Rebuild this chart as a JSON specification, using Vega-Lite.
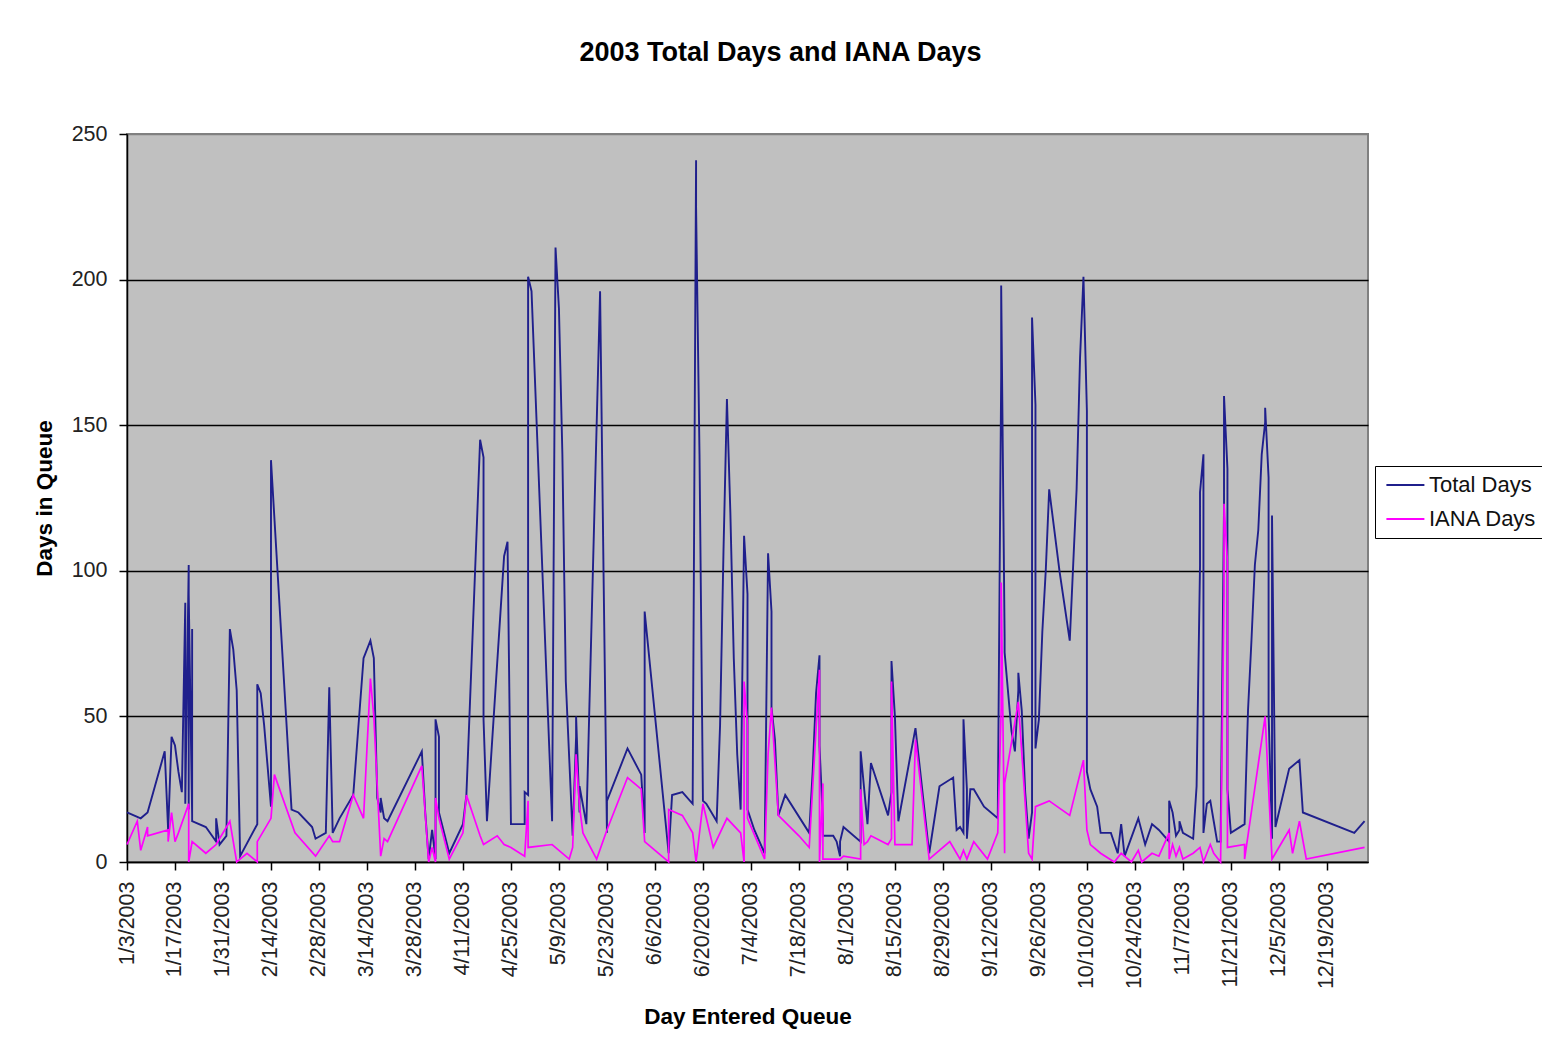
{
"$schema": "https://vega.github.io/schema/vega-lite/v6.json",
"width": 1241, "height": 728,
"autosize": {"type": "none"},
"padding": {"left": 127, "top": 134, "right": 174, "bottom": 185},
"background": "#ffffff",
"title": {"text": "2003 Total Days and IANA Days", "font": "Liberation Sans", "fontSize": 27, "fontWeight": "bold", "color": "#000000", "anchor": "middle", "offset": 56, "dx": 33},
"config": {"view": {"fill": "#c0c0c0", "stroke": "#808080", "strokeWidth": 2}},
"data": {"values": [
{"date":"2003-01-03","series":"Total Days","days":17},
{"date":"2003-01-07","series":"Total Days","days":15},
{"date":"2003-01-09","series":"Total Days","days":17},
{"date":"2003-01-14","series":"Total Days","days":38},
{"date":"2003-01-15","series":"Total Days","days":11},
{"date":"2003-01-16","series":"Total Days","days":43},
{"date":"2003-01-17","series":"Total Days","days":40},
{"date":"2003-01-18","series":"Total Days","days":31},
{"date":"2003-01-19","series":"Total Days","days":24},
{"date":"2003-01-20","series":"Total Days","days":89},
{"date":"2003-01-20","series":"Total Days","days":20},
{"date":"2003-01-21","series":"Total Days","days":102},
{"date":"2003-01-21","series":"Total Days","days":18},
{"date":"2003-01-21","series":"Total Days","days":92},
{"date":"2003-01-22","series":"Total Days","days":16},
{"date":"2003-01-22","series":"Total Days","days":80},
{"date":"2003-01-22","series":"Total Days","days":14},
{"date":"2003-01-26","series":"Total Days","days":12},
{"date":"2003-01-29","series":"Total Days","days":7},
{"date":"2003-01-29","series":"Total Days","days":15},
{"date":"2003-01-30","series":"Total Days","days":6},
{"date":"2003-02-01","series":"Total Days","days":9},
{"date":"2003-02-02","series":"Total Days","days":80},
{"date":"2003-02-03","series":"Total Days","days":73},
{"date":"2003-02-04","series":"Total Days","days":59},
{"date":"2003-02-05","series":"Total Days","days":2},
{"date":"2003-02-10","series":"Total Days","days":13},
{"date":"2003-02-10","series":"Total Days","days":61},
{"date":"2003-02-11","series":"Total Days","days":58},
{"date":"2003-02-12","series":"Total Days","days":47},
{"date":"2003-02-14","series":"Total Days","days":19},
{"date":"2003-02-14","series":"Total Days","days":138},
{"date":"2003-02-20","series":"Total Days","days":18},
{"date":"2003-02-22","series":"Total Days","days":17},
{"date":"2003-02-26","series":"Total Days","days":12},
{"date":"2003-02-27","series":"Total Days","days":8},
{"date":"2003-03-02","series":"Total Days","days":10},
{"date":"2003-03-03","series":"Total Days","days":60},
{"date":"2003-03-04","series":"Total Days","days":10},
{"date":"2003-03-06","series":"Total Days","days":15},
{"date":"2003-03-10","series":"Total Days","days":23},
{"date":"2003-03-13","series":"Total Days","days":70},
{"date":"2003-03-15","series":"Total Days","days":76},
{"date":"2003-03-16","series":"Total Days","days":70},
{"date":"2003-03-17","series":"Total Days","days":22},
{"date":"2003-03-18","series":"Total Days","days":17},
{"date":"2003-03-18","series":"Total Days","days":22},
{"date":"2003-03-19","series":"Total Days","days":15},
{"date":"2003-03-20","series":"Total Days","days":14},
{"date":"2003-03-30","series":"Total Days","days":38},
{"date":"2003-03-31","series":"Total Days","days":17},
{"date":"2003-04-01","series":"Total Days","days":1},
{"date":"2003-04-02","series":"Total Days","days":11},
{"date":"2003-04-03","series":"Total Days","days":1},
{"date":"2003-04-03","series":"Total Days","days":49},
{"date":"2003-04-04","series":"Total Days","days":43},
{"date":"2003-04-04","series":"Total Days","days":17},
{"date":"2003-04-07","series":"Total Days","days":3},
{"date":"2003-04-11","series":"Total Days","days":13},
{"date":"2003-04-12","series":"Total Days","days":23},
{"date":"2003-04-15","series":"Total Days","days":114},
{"date":"2003-04-16","series":"Total Days","days":145},
{"date":"2003-04-17","series":"Total Days","days":139},
{"date":"2003-04-17","series":"Total Days","days":49},
{"date":"2003-04-18","series":"Total Days","days":14},
{"date":"2003-04-23","series":"Total Days","days":105},
{"date":"2003-04-24","series":"Total Days","days":110},
{"date":"2003-04-25","series":"Total Days","days":13},
{"date":"2003-04-29","series":"Total Days","days":13},
{"date":"2003-04-29","series":"Total Days","days":24},
{"date":"2003-04-30","series":"Total Days","days":23},
{"date":"2003-04-30","series":"Total Days","days":201},
{"date":"2003-05-01","series":"Total Days","days":196},
{"date":"2003-05-07","series":"Total Days","days":14},
{"date":"2003-05-08","series":"Total Days","days":211},
{"date":"2003-05-09","series":"Total Days","days":190},
{"date":"2003-05-10","series":"Total Days","days":140},
{"date":"2003-05-11","series":"Total Days","days":62},
{"date":"2003-05-13","series":"Total Days","days":9},
{"date":"2003-05-14","series":"Total Days","days":43},
{"date":"2003-05-14","series":"Total Days","days":50},
{"date":"2003-05-15","series":"Total Days","days":17},
{"date":"2003-05-15","series":"Total Days","days":26},
{"date":"2003-05-17","series":"Total Days","days":13},
{"date":"2003-05-21","series":"Total Days","days":196},
{"date":"2003-05-22","series":"Total Days","days":100},
{"date":"2003-05-23","series":"Total Days","days":10},
{"date":"2003-05-23","series":"Total Days","days":21},
{"date":"2003-05-29","series":"Total Days","days":39},
{"date":"2003-06-02","series":"Total Days","days":30},
{"date":"2003-06-03","series":"Total Days","days":10},
{"date":"2003-06-03","series":"Total Days","days":86},
{"date":"2003-06-10","series":"Total Days","days":3},
{"date":"2003-06-11","series":"Total Days","days":23},
{"date":"2003-06-14","series":"Total Days","days":24},
{"date":"2003-06-17","series":"Total Days","days":20},
{"date":"2003-06-18","series":"Total Days","days":241},
{"date":"2003-06-18","series":"Total Days","days":225},
{"date":"2003-06-19","series":"Total Days","days":140},
{"date":"2003-06-20","series":"Total Days","days":21},
{"date":"2003-06-21","series":"Total Days","days":20},
{"date":"2003-06-24","series":"Total Days","days":14},
{"date":"2003-06-25","series":"Total Days","days":47},
{"date":"2003-06-26","series":"Total Days","days":107},
{"date":"2003-06-27","series":"Total Days","days":159},
{"date":"2003-06-28","series":"Total Days","days":120},
{"date":"2003-06-29","series":"Total Days","days":70},
{"date":"2003-06-30","series":"Total Days","days":37},
{"date":"2003-07-01","series":"Total Days","days":18},
{"date":"2003-07-02","series":"Total Days","days":112},
{"date":"2003-07-03","series":"Total Days","days":92},
{"date":"2003-07-03","series":"Total Days","days":18},
{"date":"2003-07-05","series":"Total Days","days":11},
{"date":"2003-07-08","series":"Total Days","days":3},
{"date":"2003-07-09","series":"Total Days","days":106},
{"date":"2003-07-10","series":"Total Days","days":86},
{"date":"2003-07-10","series":"Total Days","days":53},
{"date":"2003-07-11","series":"Total Days","days":42},
{"date":"2003-07-12","series":"Total Days","days":16},
{"date":"2003-07-14","series":"Total Days","days":23},
{"date":"2003-07-21","series":"Total Days","days":10},
{"date":"2003-07-22","series":"Total Days","days":31},
{"date":"2003-07-23","series":"Total Days","days":58},
{"date":"2003-07-24","series":"Total Days","days":71},
{"date":"2003-07-24","series":"Total Days","days":40},
{"date":"2003-07-25","series":"Total Days","days":14},
{"date":"2003-07-25","series":"Total Days","days":9},
{"date":"2003-07-28","series":"Total Days","days":9},
{"date":"2003-07-29","series":"Total Days","days":7},
{"date":"2003-07-30","series":"Total Days","days":2},
{"date":"2003-07-30","series":"Total Days","days":7},
{"date":"2003-07-31","series":"Total Days","days":12},
{"date":"2003-08-05","series":"Total Days","days":7},
{"date":"2003-08-05","series":"Total Days","days":38},
{"date":"2003-08-07","series":"Total Days","days":13},
{"date":"2003-08-08","series":"Total Days","days":34},
{"date":"2003-08-13","series":"Total Days","days":16},
{"date":"2003-08-14","series":"Total Days","days":24},
{"date":"2003-08-14","series":"Total Days","days":69},
{"date":"2003-08-15","series":"Total Days","days":50},
{"date":"2003-08-16","series":"Total Days","days":14},
{"date":"2003-08-21","series":"Total Days","days":46},
{"date":"2003-08-25","series":"Total Days","days":3},
{"date":"2003-08-28","series":"Total Days","days":26},
{"date":"2003-09-01","series":"Total Days","days":29},
{"date":"2003-09-02","series":"Total Days","days":11},
{"date":"2003-09-03","series":"Total Days","days":12},
{"date":"2003-09-04","series":"Total Days","days":10},
{"date":"2003-09-04","series":"Total Days","days":49},
{"date":"2003-09-05","series":"Total Days","days":25},
{"date":"2003-09-05","series":"Total Days","days":8},
{"date":"2003-09-06","series":"Total Days","days":25},
{"date":"2003-09-07","series":"Total Days","days":25},
{"date":"2003-09-10","series":"Total Days","days":19},
{"date":"2003-09-14","series":"Total Days","days":15},
{"date":"2003-09-15","series":"Total Days","days":167},
{"date":"2003-09-15","series":"Total Days","days":198},
{"date":"2003-09-16","series":"Total Days","days":77},
{"date":"2003-09-16","series":"Total Days","days":72},
{"date":"2003-09-18","series":"Total Days","days":45},
{"date":"2003-09-19","series":"Total Days","days":38},
{"date":"2003-09-20","series":"Total Days","days":59},
{"date":"2003-09-20","series":"Total Days","days":65},
{"date":"2003-09-21","series":"Total Days","days":52},
{"date":"2003-09-22","series":"Total Days","days":24},
{"date":"2003-09-23","series":"Total Days","days":8},
{"date":"2003-09-24","series":"Total Days","days":17},
{"date":"2003-09-24","series":"Total Days","days":187},
{"date":"2003-09-25","series":"Total Days","days":157},
{"date":"2003-09-25","series":"Total Days","days":97},
{"date":"2003-09-25","series":"Total Days","days":39},
{"date":"2003-09-26","series":"Total Days","days":49},
{"date":"2003-09-27","series":"Total Days","days":79},
{"date":"2003-09-28","series":"Total Days","days":100},
{"date":"2003-09-29","series":"Total Days","days":128},
{"date":"2003-10-02","series":"Total Days","days":100},
{"date":"2003-10-05","series":"Total Days","days":76},
{"date":"2003-10-07","series":"Total Days","days":128},
{"date":"2003-10-08","series":"Total Days","days":173},
{"date":"2003-10-09","series":"Total Days","days":201},
{"date":"2003-10-10","series":"Total Days","days":155},
{"date":"2003-10-10","series":"Total Days","days":31},
{"date":"2003-10-11","series":"Total Days","days":25},
{"date":"2003-10-13","series":"Total Days","days":19},
{"date":"2003-10-14","series":"Total Days","days":10},
{"date":"2003-10-17","series":"Total Days","days":10},
{"date":"2003-10-19","series":"Total Days","days":3},
{"date":"2003-10-20","series":"Total Days","days":13},
{"date":"2003-10-21","series":"Total Days","days":2},
{"date":"2003-10-25","series":"Total Days","days":15},
{"date":"2003-10-27","series":"Total Days","days":6},
{"date":"2003-10-29","series":"Total Days","days":13},
{"date":"2003-10-31","series":"Total Days","days":11},
{"date":"2003-11-03","series":"Total Days","days":7},
{"date":"2003-11-03","series":"Total Days","days":21},
{"date":"2003-11-04","series":"Total Days","days":17},
{"date":"2003-11-05","series":"Total Days","days":9},
{"date":"2003-11-06","series":"Total Days","days":11},
{"date":"2003-11-06","series":"Total Days","days":14},
{"date":"2003-11-07","series":"Total Days","days":10},
{"date":"2003-11-10","series":"Total Days","days":8},
{"date":"2003-11-11","series":"Total Days","days":26},
{"date":"2003-11-12","series":"Total Days","days":102},
{"date":"2003-11-12","series":"Total Days","days":127},
{"date":"2003-11-13","series":"Total Days","days":140},
{"date":"2003-11-13","series":"Total Days","days":78},
{"date":"2003-11-13","series":"Total Days","days":10},
{"date":"2003-11-14","series":"Total Days","days":20},
{"date":"2003-11-15","series":"Total Days","days":21},
{"date":"2003-11-16","series":"Total Days","days":14},
{"date":"2003-11-17","series":"Total Days","days":7},
{"date":"2003-11-18","series":"Total Days","days":7},
{"date":"2003-11-19","series":"Total Days","days":122},
{"date":"2003-11-19","series":"Total Days","days":160},
{"date":"2003-11-20","series":"Total Days","days":135},
{"date":"2003-11-20","series":"Total Days","days":86},
{"date":"2003-11-20","series":"Total Days","days":25},
{"date":"2003-11-21","series":"Total Days","days":10},
{"date":"2003-11-25","series":"Total Days","days":13},
{"date":"2003-11-26","series":"Total Days","days":52},
{"date":"2003-11-27","series":"Total Days","days":76},
{"date":"2003-11-28","series":"Total Days","days":102},
{"date":"2003-11-29","series":"Total Days","days":114},
{"date":"2003-11-30","series":"Total Days","days":140},
{"date":"2003-12-01","series":"Total Days","days":151},
{"date":"2003-12-01","series":"Total Days","days":156},
{"date":"2003-12-02","series":"Total Days","days":132},
{"date":"2003-12-02","series":"Total Days","days":51},
{"date":"2003-12-03","series":"Total Days","days":8},
{"date":"2003-12-03","series":"Total Days","days":119},
{"date":"2003-12-04","series":"Total Days","days":12},
{"date":"2003-12-08","series":"Total Days","days":32},
{"date":"2003-12-11","series":"Total Days","days":35},
{"date":"2003-12-12","series":"Total Days","days":17},
{"date":"2003-12-27","series":"Total Days","days":10},
{"date":"2003-12-30","series":"Total Days","days":14},
{"date":"2003-01-03","series":"IANA Days","days":6},
{"date":"2003-01-06","series":"IANA Days","days":14},
{"date":"2003-01-07","series":"IANA Days","days":4},
{"date":"2003-01-09","series":"IANA Days","days":12},
{"date":"2003-01-09","series":"IANA Days","days":9},
{"date":"2003-01-15","series":"IANA Days","days":11},
{"date":"2003-01-15","series":"IANA Days","days":7},
{"date":"2003-01-16","series":"IANA Days","days":17},
{"date":"2003-01-17","series":"IANA Days","days":7},
{"date":"2003-01-18","series":"IANA Days","days":10},
{"date":"2003-01-21","series":"IANA Days","days":20},
{"date":"2003-01-21","series":"IANA Days","days":0},
{"date":"2003-01-22","series":"IANA Days","days":7},
{"date":"2003-01-26","series":"IANA Days","days":3},
{"date":"2003-01-29","series":"IANA Days","days":6},
{"date":"2003-02-02","series":"IANA Days","days":14},
{"date":"2003-02-04","series":"IANA Days","days":0},
{"date":"2003-02-07","series":"IANA Days","days":3},
{"date":"2003-02-10","series":"IANA Days","days":0},
{"date":"2003-02-10","series":"IANA Days","days":7},
{"date":"2003-02-14","series":"IANA Days","days":15},
{"date":"2003-02-15","series":"IANA Days","days":30},
{"date":"2003-02-21","series":"IANA Days","days":10},
{"date":"2003-02-27","series":"IANA Days","days":2},
{"date":"2003-03-03","series":"IANA Days","days":9},
{"date":"2003-03-04","series":"IANA Days","days":7},
{"date":"2003-03-06","series":"IANA Days","days":7},
{"date":"2003-03-10","series":"IANA Days","days":23},
{"date":"2003-03-13","series":"IANA Days","days":15},
{"date":"2003-03-15","series":"IANA Days","days":63},
{"date":"2003-03-16","series":"IANA Days","days":50},
{"date":"2003-03-18","series":"IANA Days","days":2},
{"date":"2003-03-19","series":"IANA Days","days":8},
{"date":"2003-03-20","series":"IANA Days","days":7},
{"date":"2003-03-30","series":"IANA Days","days":33},
{"date":"2003-04-01","series":"IANA Days","days":0},
{"date":"2003-04-02","series":"IANA Days","days":5},
{"date":"2003-04-03","series":"IANA Days","days":0},
{"date":"2003-04-03","series":"IANA Days","days":22},
{"date":"2003-04-04","series":"IANA Days","days":15},
{"date":"2003-04-07","series":"IANA Days","days":1},
{"date":"2003-04-11","series":"IANA Days","days":10},
{"date":"2003-04-12","series":"IANA Days","days":23},
{"date":"2003-04-16","series":"IANA Days","days":9},
{"date":"2003-04-17","series":"IANA Days","days":6},
{"date":"2003-04-21","series":"IANA Days","days":9},
{"date":"2003-04-23","series":"IANA Days","days":6},
{"date":"2003-04-25","series":"IANA Days","days":5},
{"date":"2003-04-29","series":"IANA Days","days":2},
{"date":"2003-04-30","series":"IANA Days","days":21},
{"date":"2003-04-30","series":"IANA Days","days":5},
{"date":"2003-05-07","series":"IANA Days","days":6},
{"date":"2003-05-12","series":"IANA Days","days":1},
{"date":"2003-05-13","series":"IANA Days","days":5},
{"date":"2003-05-14","series":"IANA Days","days":37},
{"date":"2003-05-15","series":"IANA Days","days":19},
{"date":"2003-05-16","series":"IANA Days","days":10},
{"date":"2003-05-20","series":"IANA Days","days":1},
{"date":"2003-05-23","series":"IANA Days","days":11},
{"date":"2003-05-29","series":"IANA Days","days":29},
{"date":"2003-06-02","series":"IANA Days","days":25},
{"date":"2003-06-03","series":"IANA Days","days":7},
{"date":"2003-06-10","series":"IANA Days","days":0},
{"date":"2003-06-10","series":"IANA Days","days":18},
{"date":"2003-06-14","series":"IANA Days","days":16},
{"date":"2003-06-17","series":"IANA Days","days":10},
{"date":"2003-06-18","series":"IANA Days","days":0},
{"date":"2003-06-20","series":"IANA Days","days":20},
{"date":"2003-06-23","series":"IANA Days","days":5},
{"date":"2003-06-27","series":"IANA Days","days":15},
{"date":"2003-07-01","series":"IANA Days","days":10},
{"date":"2003-07-02","series":"IANA Days","days":0},
{"date":"2003-07-02","series":"IANA Days","days":62},
{"date":"2003-07-03","series":"IANA Days","days":47},
{"date":"2003-07-03","series":"IANA Days","days":15},
{"date":"2003-07-08","series":"IANA Days","days":1},
{"date":"2003-07-09","series":"IANA Days","days":37},
{"date":"2003-07-10","series":"IANA Days","days":53},
{"date":"2003-07-12","series":"IANA Days","days":16},
{"date":"2003-07-18","series":"IANA Days","days":9},
{"date":"2003-07-21","series":"IANA Days","days":5},
{"date":"2003-07-24","series":"IANA Days","days":66},
{"date":"2003-07-24","series":"IANA Days","days":0},
{"date":"2003-07-25","series":"IANA Days","days":27},
{"date":"2003-07-25","series":"IANA Days","days":1},
{"date":"2003-07-30","series":"IANA Days","days":1},
{"date":"2003-07-31","series":"IANA Days","days":2},
{"date":"2003-08-05","series":"IANA Days","days":1},
{"date":"2003-08-05","series":"IANA Days","days":25},
{"date":"2003-08-06","series":"IANA Days","days":6},
{"date":"2003-08-07","series":"IANA Days","days":7},
{"date":"2003-08-08","series":"IANA Days","days":9},
{"date":"2003-08-13","series":"IANA Days","days":6},
{"date":"2003-08-14","series":"IANA Days","days":8},
{"date":"2003-08-14","series":"IANA Days","days":62},
{"date":"2003-08-15","series":"IANA Days","days":6},
{"date":"2003-08-20","series":"IANA Days","days":6},
{"date":"2003-08-21","series":"IANA Days","days":42},
{"date":"2003-08-25","series":"IANA Days","days":1},
{"date":"2003-08-31","series":"IANA Days","days":7},
{"date":"2003-09-02","series":"IANA Days","days":3},
{"date":"2003-09-03","series":"IANA Days","days":1},
{"date":"2003-09-04","series":"IANA Days","days":4},
{"date":"2003-09-05","series":"IANA Days","days":1},
{"date":"2003-09-07","series":"IANA Days","days":7},
{"date":"2003-09-11","series":"IANA Days","days":1},
{"date":"2003-09-14","series":"IANA Days","days":10},
{"date":"2003-09-15","series":"IANA Days","days":53},
{"date":"2003-09-15","series":"IANA Days","days":96},
{"date":"2003-09-16","series":"IANA Days","days":3},
{"date":"2003-09-16","series":"IANA Days","days":27},
{"date":"2003-09-20","series":"IANA Days","days":55},
{"date":"2003-09-23","series":"IANA Days","days":3},
{"date":"2003-09-24","series":"IANA Days","days":1},
{"date":"2003-09-25","series":"IANA Days","days":19},
{"date":"2003-09-29","series":"IANA Days","days":21},
{"date":"2003-10-05","series":"IANA Days","days":16},
{"date":"2003-10-09","series":"IANA Days","days":35},
{"date":"2003-10-10","series":"IANA Days","days":11},
{"date":"2003-10-11","series":"IANA Days","days":6},
{"date":"2003-10-14","series":"IANA Days","days":3},
{"date":"2003-10-18","series":"IANA Days","days":0},
{"date":"2003-10-20","series":"IANA Days","days":3},
{"date":"2003-10-23","series":"IANA Days","days":0},
{"date":"2003-10-25","series":"IANA Days","days":4},
{"date":"2003-10-26","series":"IANA Days","days":0},
{"date":"2003-10-29","series":"IANA Days","days":3},
{"date":"2003-10-31","series":"IANA Days","days":2},
{"date":"2003-11-03","series":"IANA Days","days":10},
{"date":"2003-11-03","series":"IANA Days","days":1},
{"date":"2003-11-04","series":"IANA Days","days":6},
{"date":"2003-11-05","series":"IANA Days","days":2},
{"date":"2003-11-06","series":"IANA Days","days":5},
{"date":"2003-11-07","series":"IANA Days","days":1},
{"date":"2003-11-10","series":"IANA Days","days":3},
{"date":"2003-11-12","series":"IANA Days","days":5},
{"date":"2003-11-13","series":"IANA Days","days":0},
{"date":"2003-11-15","series":"IANA Days","days":6},
{"date":"2003-11-16","series":"IANA Days","days":3},
{"date":"2003-11-18","series":"IANA Days","days":0},
{"date":"2003-11-19","series":"IANA Days","days":92},
{"date":"2003-11-19","series":"IANA Days","days":123},
{"date":"2003-11-20","series":"IANA Days","days":103},
{"date":"2003-11-20","series":"IANA Days","days":5},
{"date":"2003-11-25","series":"IANA Days","days":6},
{"date":"2003-11-25","series":"IANA Days","days":1},
{"date":"2003-12-01","series":"IANA Days","days":50},
{"date":"2003-12-03","series":"IANA Days","days":1},
{"date":"2003-12-04","series":"IANA Days","days":3},
{"date":"2003-12-08","series":"IANA Days","days":11},
{"date":"2003-12-09","series":"IANA Days","days":3},
{"date":"2003-12-11","series":"IANA Days","days":14},
{"date":"2003-12-13","series":"IANA Days","days":1},
{"date":"2003-12-30","series":"IANA Days","days":5}
]},
"encoding": {
  "x": {"field": "date", "type": "temporal",
    "scale": {"type": "utc", "domain": [{"year":2003,"month":1,"date":3,"utc":true},{"year":2003,"month":12,"date":31,"utc":true}]},
    "axis": {
      "values": [
        {"year":2003,"month":1,"date":3,"utc":true},{"year":2003,"month":1,"date":17,"utc":true},{"year":2003,"month":1,"date":31,"utc":true},
        {"year":2003,"month":2,"date":14,"utc":true},{"year":2003,"month":2,"date":28,"utc":true},{"year":2003,"month":3,"date":14,"utc":true},
        {"year":2003,"month":3,"date":28,"utc":true},{"year":2003,"month":4,"date":11,"utc":true},{"year":2003,"month":4,"date":25,"utc":true},
        {"year":2003,"month":5,"date":9,"utc":true},{"year":2003,"month":5,"date":23,"utc":true},{"year":2003,"month":6,"date":6,"utc":true},
        {"year":2003,"month":6,"date":20,"utc":true},{"year":2003,"month":7,"date":4,"utc":true},{"year":2003,"month":7,"date":18,"utc":true},
        {"year":2003,"month":8,"date":1,"utc":true},{"year":2003,"month":8,"date":15,"utc":true},{"year":2003,"month":8,"date":29,"utc":true},
        {"year":2003,"month":9,"date":12,"utc":true},{"year":2003,"month":9,"date":26,"utc":true},{"year":2003,"month":10,"date":10,"utc":true},
        {"year":2003,"month":10,"date":24,"utc":true},{"year":2003,"month":11,"date":7,"utc":true},{"year":2003,"month":11,"date":21,"utc":true},
        {"year":2003,"month":12,"date":5,"utc":true},{"year":2003,"month":12,"date":19,"utc":true}
      ],
      "labelExpr": "utcFormat(datum.value, '%-m/%-d/%Y')",
      "labelAngle": 270, "labelFont": "Liberation Sans", "labelFontSize": 21.5, "labelColor": "#222222",
      "labelPadding": 11, "labelOverlap": false, "labelFlush": false,
      "tickSize": 8, "tickColor": "#000000", "tickWidth": 1.5,
      "domainColor": "#000000", "domainWidth": 1.5, "grid": false,
      "title": "Day Entered Queue", "titleFont": "Liberation Sans", "titleFontSize": 22.5, "titleFontWeight": "bold", "titleColor": "#000000", "titlePadding": 17
    }},
  "y": {"field": "days", "type": "quantitative",
    "scale": {"domain": [0, 250], "nice": false},
    "axis": {
      "values": [0, 50, 100, 150, 200, 250],
      "labelFont": "Liberation Sans", "labelFontSize": 21.5, "labelColor": "#222222", "labelPadding": 12,
      "tickSize": 8, "tickColor": "#000000", "tickWidth": 1.5,
      "domainColor": "#000000", "domainWidth": 1.5,
      "grid": true, "gridColor": {"condition": {"test": "datum.value === 250", "value": "#808080"}, "value": "#000000"}, "gridWidth": 1.5,
      "title": "Days in Queue", "titleFont": "Liberation Sans", "titleFontSize": 22.5, "titleFontWeight": "bold", "titleColor": "#000000", "titlePadding": 15
    }},
  "color": {"field": "series", "type": "nominal",
    "scale": {"domain": ["Total Days", "IANA Days"], "range": ["#1f1f8c", "#ff00ff"]},
    "legend": {"orient": "none", "legendX": 1248, "legendY": 332, "title": null,
      "labelFont": "Liberation Sans", "labelFontSize": 22, "labelColor": "#111111",
      "symbolType": "M-0.8,0H3.2", "symbolSize": 361, "symbolStrokeWidth": 2,
      "padding": 8, "labelOffset": 24, "rowPadding": 12,
      "strokeColor": "#000000", "fillColor": "#ffffff"}},
  "order": {"value": null}
},
"layer": [
  {"transform": [{"filter": "datum.series === 'Total Days'"}], "mark": {"type": "line", "strokeWidth": 1.9}},
  {"transform": [{"filter": "datum.series === 'IANA Days'"}], "mark": {"type": "line", "strokeWidth": 1.7}}
]
}
